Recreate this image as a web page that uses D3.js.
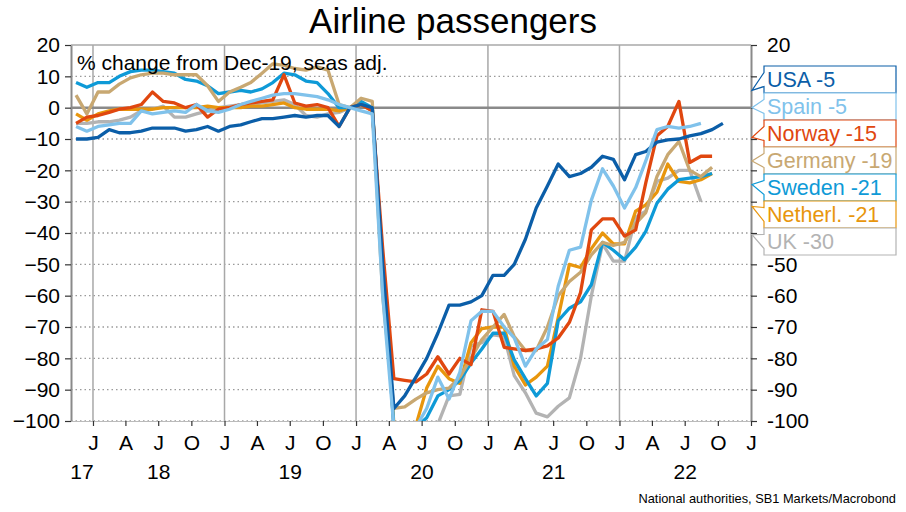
<!DOCTYPE html>
<html>
<head>
<meta charset="utf-8">
<script src="https://cdn.jsdelivr.net/npm/d3@7"></script>
<style>
  body { margin: 0; background: #fff; }
  text { font-family: 'Liberation Sans', Arial, sans-serif; }
</style>
</head>
<body>
<svg id="chart" width="906" height="512"></svg>
<script>
// monthly observations, first one is Nov 2017
const firstMonth = new Date(Date.UTC(2017, 10, 15))

const countries = ['USA', 'Spain', 'Norway', 'Germany', 'Sweden', 'Netherl.', 'UK']
const colors = ['#0B5EA8', '#80C2EB', '#E0470F', '#C8A872', '#0E9AD7', '#E8960D', '#B3B3B3']
// order the lines are painted in (last one ends up on top)
const drawOrder = ['UK', 'Netherl.', 'Sweden', 'Germany', 'Norway', 'USA', 'Spain']

const usa = [-10, -10, -9.5, -7, -8, -8, -7.5, -6.5, -6.5, -6.5, -7.5, -7, -6, -7.5, -6, -5.5, -4.5, -3.5, -3.5, -3,
  -2.5, -3, -2.5, -2.5, -6, 0, 1, 0, -50, -96, -92, -86, -80, -72, -63, -63, -62, -60, -53.5, -53.5,
  -50, -42, -32, -25, -18, -22, -21, -19, -15.5, -16.5, -23, -15, -14, -11, -10.3, -10, -9, -8.3, -7, -5]
const spain = [-6, -7.5, -6, -5.5, -5, -5, -1, -2, -1.5, -1, -1.5, 1, -1, -1.5, -0.5, 1, 2, 3, 4, 4.5,
  4.5, 4, 3.5, 2.5, 1, 0, -1, -2, -60, -102, -102, -102, -96, -86, -93, -84.5, -68, -65, -65, -70,
  -73.5, -82.5, -77, -74, -57, -45.5, -44.5, -29.5, -19.5, -25, -32, -25.5, -17, -7, -6, -6.5, -6, -5]
const norway = [-5, -3, -2.5, -1.5, -0.5, 0, 1, 5, 2, 1.5, 0, 1, -3, -0.5, 0, 1, 1.5, 2, 2.5, 10.5,
  1.5, 0.5, 1, 0, -6, 0, 1, -1, -45, -86.5, -87, -87.5, -85, -79.5, -85, -80, -82, -64.5, -65, -76.5,
  -77, -77.5, -77, -76, -73.5, -68.5, -59, -39, -35.5, -35.5, -41, -39, -24, -9, -6, 2, -17.5, -15.5, -15.5]
const germany = [4, -2, 5, 5, 7.5, 9.5, 10.5, 11, 11, 10.5, 10.5, 10.5, 7, 2, 5, 6.5, 8, 11, 14, 13.5,
  12.5, 12, 13, 12, 1, 0, 3, 2, -60, -96, -95.5, -93, -91, -90, -89.5, -86, -80, -74, -70, -66,
  -73, -77.5, -77.5, -70, -60, -55.5, -52.5, -47, -43, -44, -43, -37, -33.5, -22, -15, -10.8, -20, -22, -19]
const sweden = [8, 6.5, 8, 8, 10, 11.5, 12, 12, 11.5, 11, 9, 8.5, 7, 4.5, 5, 5.5, 5, 6, 8, 11,
  10.5, 8.5, 8, 4.5, 0, 0, 2, 0, -50, -102, -102, -102, -99, -92, -90, -87, -81.5, -77, -72, -72,
  -80.5, -86.5, -92, -88, -68, -64, -62, -56.5, -43, -45.5, -48.5, -44.5, -39.5, -30.5, -26, -23, -22.5, -22, -21]
const netherlands = [-2, -4, -2, -1, -0.5, -0.5, -0.5, -0.5, 0, 0, 0, 0, 0.5, 0, 0, 0, 0.5, 0.5, 1, 1.5,
  0, -0.5, -0.5, -0.5, -1, 0, 1, -1, -50, -101, -101, -101.5, -89.5, -82.5, -86.5, -88, -75, -70.5, -70, -70,
  -82.5, -88.5, -86, -82.5, -67, -50, -51, -45, -40, -43.5, -43.5, -33, -31, -27, -18, -23.5, -24, -23, -21]
const uk = [-5, -5, -4.5, -4.5, -4, -3, -1, -0.5, 0.5, -3, -3, -2, -1, 0, 0.5, 1, 1, 1.5, 2, 2.5,
  1, -2.5, -3, -2, -1.5, 0, 1, 0, -50, -102, -102, -102, -102, -101, -92, -91.5, -76, -75, -72.5, -73,
  -85.5, -91, -97.5, -98.7, -95.3, -92.6, -80, -60, -43.5, -49, -49, -35, -33, -23.5, -22.5, -20, -20, -30]

const seriesValues = [usa, spain, norway, germany, sweden, netherlands, uk]
// where each legend pointer touches the right axis
const labelTips = [5.5, 0, -9.5, -17, -24.5, -31.5, -40.5]

const yTicks = d3.range(-100, 21, 10)
const quarterLetters = ['J', 'A', 'J', 'O']
const years = [2017, 2018, 2019, 2020, 2021, 2022]

const width = 906
const height = 512
const plot = { left: 71, right: 751, top: 45, bottom: 421 }

const svg = d3.select('#chart')

const x = d3.scaleUtc()
  .domain([new Date(Date.UTC(2017, 10, 1)), new Date(Date.UTC(2023, 0, 1))])
  .range([plot.left, plot.right])

const y = d3.scaleLinear()
  .domain([-100, 20])
  .range([plot.bottom, plot.top])

const series = countries.map((name, i) => ({
  name,
  color: colors[i],
  tip: labelTips[i],
  values: seriesValues[i].map((v, j) => ({ date: d3.utcMonth.offset(firstMonth, j), value: v }))
}))

svg.append('defs').append('clipPath')
  .attr('id', 'plot-clip')
  .append('rect')
    .attr('x', plot.left)
    .attr('y', plot.top)
    .attr('width', plot.right - plot.left)
    .attr('height', plot.bottom - plot.top)

// dotted horizontal grid
svg.append('g')
  .selectAll('line')
  .data(yTicks.filter(d => d !== 0 && d !== 20))
  .join('line')
    .attr('x1', plot.left)
    .attr('x2', plot.right)
    .attr('y1', d => y(d))
    .attr('y2', d => y(d))
    .attr('stroke', '#9a9a9a')
    .attr('stroke-width', 1.3)
    .attr('stroke-dasharray', '1.5,3')

// year separators
svg.append('g')
  .selectAll('line')
  .data(years.slice(1).map(yr => new Date(Date.UTC(yr, 0, 1))))
  .join('line')
    .attr('x1', d => x(d))
    .attr('x2', d => x(d))
    .attr('y1', plot.top)
    .attr('y2', plot.bottom)
    .attr('stroke', '#a8a8a8')
    .attr('stroke-width', 1.5)

// frame top
svg.append('line')
  .attr('x1', plot.left).attr('x2', plot.right)
  .attr('y1', plot.top).attr('y2', plot.top)
  .attr('stroke', '#a8a8a8').attr('stroke-width', 1.5)

// zero line
svg.append('line')
  .attr('x1', plot.left).attr('x2', plot.right)
  .attr('y1', y(0)).attr('y2', y(0))
  .attr('stroke', '#8a8a8a').attr('stroke-width', 2.5)

const line = d3.line()
  .defined(d => d.value != null)
  .x(d => x(d.date))
  .y(d => y(d.value))

svg.append('g')
  .attr('clip-path', 'url(#plot-clip)')
  .selectAll('path')
  .data(drawOrder.map(name => series.find(s => s.name === name)))
  .join('path')
    .attr('d', d => line(d.values))
    .attr('fill', 'none')
    .attr('stroke', d => d.color)
    .attr('stroke-width', 3.3)
    .attr('stroke-linejoin', 'round')

// legend callouts on the right
const legendTop = 66
const rowHeight = 27
const boxLeft = 764
const boxRight = 896
const legendBottom = legendTop + rowHeight * countries.length

// axes
const styleAxis = g => {
  g.select('.domain').attr('stroke', '#8a8a8a').attr('stroke-width', 2)
  g.selectAll('.tick line').attr('stroke', '#333').attr('stroke-width', 1.2)
  g.selectAll('.tick text').attr('font-size', 21).attr('fill', '#000')
    .attr('font-family', "'Liberation Sans', Arial, sans-serif")
}

svg.append('g')
  .attr('transform', `translate(${plot.left},0)`)
  .call(d3.axisLeft(y).tickValues(yTicks).tickSize(6).tickSizeOuter(0).tickPadding(5))
  .call(styleAxis)

// right-hand labels that sit behind the legend boxes are not shown
svg.append('g')
  .attr('transform', `translate(${plot.right},0)`)
  .call(d3.axisRight(y)
    .tickValues(yTicks)
    .tickFormat(d => (y(d) > legendTop - 8 && y(d) < legendBottom + 8) ? '' : d)
    .tickSize(6)
    .tickSizeOuter(0)
    .tickPadding(10))
  .call(styleAxis)

const xAxis = svg.append('g')
  .attr('transform', `translate(0,${plot.bottom})`)
  .call(d3.axisBottom(x)
    .ticks(d3.utcMonth.every(3))
    .tickFormat(d => quarterLetters[d.getUTCMonth() / 3])
    .tickSize(5)
    .tickSizeOuter(0)
    .tickPadding(9))
  .call(styleAxis)
xAxis.select('.domain').attr('stroke', '#bbbbbb').attr('stroke-width', 1)

// year labels, centred on the visible part of each year
const [d0, d1] = x.domain()
svg.append('g')
  .selectAll('text')
  .data(years)
  .join('text')
    .attr('x', yr => {
      const a = Math.max(+d0, Date.UTC(yr, 0, 1))
      const b = Math.min(+d1, Date.UTC(yr + 1, 0, 1))
      return (x(new Date(a)) + x(new Date(b))) / 2
    })
    .attr('y', 479)
    .attr('text-anchor', 'middle')
    .attr('font-size', 21)
    .text(yr => String(yr).slice(2))

const legend = svg.append('g')
  .selectAll('g')
  .data(series)
  .join('g')

legend.append('path')
  .attr('d', (d, i) => {
    const top = legendTop + i * rowHeight
    const bottom = top + rowHeight
    const mid = (top + bottom) / 2
    const tipY = y(d.tip)
    const arm1 = mid - 7
    const arm2 = mid + 7
    return `M${boxLeft},${top}H${boxRight}V${bottom}H${boxLeft}V${arm2}L${plot.right + 1},${tipY}L${boxLeft},${arm1}Z`
  })
  .attr('fill', '#fff')
  .attr('stroke', d => d.color)
  .attr('stroke-width', 1.2)

legend.append('text')
  .attr('x', boxLeft + 3)
  .attr('y', (d, i) => legendTop + i * rowHeight + rowHeight / 2 + 7.5)
  .attr('font-size', 21.5)
  .attr('fill', d => d.color)
  .text(d => {
    const last = d.values.filter(v => v.value != null).slice(-1)[0].value
    return `${d.name} ${Math.round(last)}`
  })

// titles
svg.append('text')
  .attr('x', width / 2)
  .attr('y', 33)
  .attr('text-anchor', 'middle')
  .attr('font-size', 35)
  .text('Airline passengers')

svg.append('text')
  .attr('x', 77)
  .attr('y', 70)
  .attr('font-size', 21)
  .text('% change from Dec-19, seas adj.')

svg.append('text')
  .attr('x', 896)
  .attr('y', 503)
  .attr('text-anchor', 'end')
  .attr('font-size', 12.8)
  .text('National authorities, SB1 Markets/Macrobond')
</script>
</body>
</html>
